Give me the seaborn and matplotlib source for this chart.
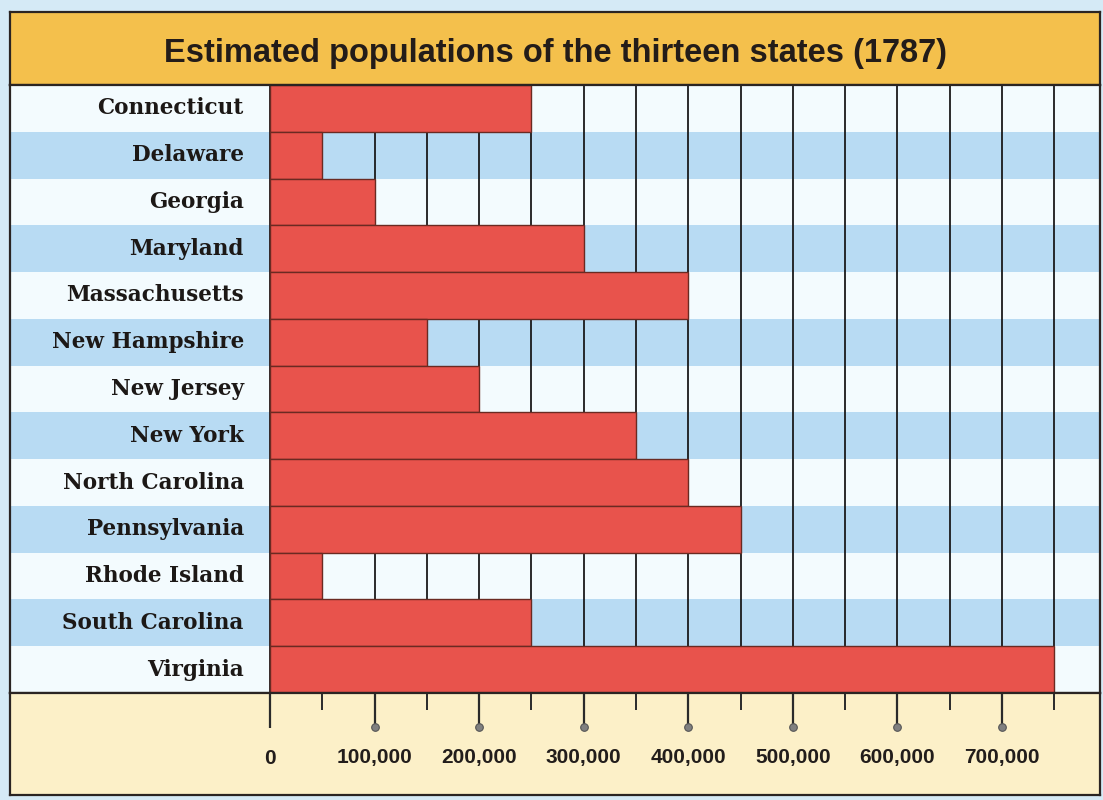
import numpy as np
import pandas as pd
import seaborn as sns
import matplotlib.pyplot as plt

# data
states = ['Connecticut', 'Delaware', 'Georgia', 'Maryland', 'Massachusetts',
          'New Hampshire', 'New Jersey', 'New York', 'North Carolina',
          'Pennsylvania', 'Rhode Island', 'South Carolina', 'Virginia']
population = [250000, 50000, 100000, 300000, 400000, 150000, 200000,
              350000, 400000, 450000, 50000, 250000, 750000]
major_ticks = [0, 100000, 200000, 300000, 400000, 500000, 600000, 700000]
tick_labels = ['0', '100,000', '200,000', '300,000', '400,000',
               '500,000', '600,000', '700,000']
title = 'Estimated populations of the thirteen states (1787)'

df = pd.DataFrame({'state': states, 'population': population})

RED = '#e8534c'
WHITE_ROW = '#f3fbfe'
BLUE_ROW = '#b8dbf3'
GOLD = '#f4c04c'
BEIGE = '#fcf0c8'
OUTER = '#d5eaf6'
DARK = '#2a2422'

sns.set_theme(style='white')
plt.rcParams['font.family'] = ['Liberation Sans', 'DejaVu Sans']

W, H = 1103, 800
fig = plt.figure(figsize=(W / 100, H / 100), dpi=100, facecolor=OUTER)

left, right = 10 / W, 1100 / W
y_top, y_title, y_rows, y_bot = 1 - 12 / H, 1 - 85 / H, 1 - 693 / H, 1 - 795 / H

# x range so that 0 sits at pixel 270 and the right edge at 1100
px_per_unit = (1002 - 270) / 700000
xmin = -(270 - 10) / px_per_unit
xmax = (1100 - 270) / px_per_unit

# title band
ax_t = fig.add_axes([left, y_title, right - left, y_top - y_title])
ax_t.set_facecolor(GOLD)
ax_t.set_xticks([])
ax_t.set_yticks([])
ax_t.text(0.5, 0.43, title, ha='center', va='center', fontsize=23.5,
          fontweight='bold', color='#231c19', transform=ax_t.transAxes)

# main bar area
ax = fig.add_axes([left, y_rows, right - left, y_title - y_rows])
sns.barplot(data=df, x='population', y='state', orient='h', color=RED,
            saturation=1, width=1.0, edgecolor='#6a2a22', linewidth=1.0, ax=ax)
for i in range(len(states)):
    ax.axhspan(i - 0.5, i + 0.5, color=WHITE_ROW if i % 2 == 0 else BLUE_ROW,
               zorder=0, lw=0)
    ax.text(-25000, i, states[i], ha='right', va='center', fontsize=15.5,
            fontweight='bold', family=['DejaVu Serif'], color='#1c1816')
ax.set_xlim(xmin, xmax)
ax.set_ylim(len(states) - 0.5, -0.5)
ax.set_xticks(np.arange(0, 800000, 50000))
ax.set_axisbelow(True)
ax.grid(axis='x', color='#1a1a1a', linewidth=1.3)
ax.grid(axis='y', visible=False)
ax.tick_params(axis='both', length=0, labelbottom=False, labelleft=False)
ax.set_xlabel('')
ax.set_ylabel('')

# bottom scale band
ax_b = fig.add_axes([left, y_bot, right - left, y_rows - y_bot])
ax_b.set_facecolor(BEIGE)
ax_b.set_xlim(xmin, xmax)
ax_b.set_ylim(0, 1)
ax_b.set_yticks([])
ax_b.xaxis.tick_top()
ax_b.set_xticks(major_ticks)
ax_b.set_xticks(np.arange(50000, 800000, 100000), minor=True)
ax_b.tick_params(axis='x', which='major', direction='in', length=25,
                 width=1.6, color='#2a2a2a', labeltop=False)
ax_b.tick_params(axis='x', which='minor', direction='in', length=12,
                 width=1.4, color='#2a2a2a')
ax_b.scatter(major_ticks[1:], [1 - 34 / 102] * (len(major_ticks) - 1),
             s=30, color='#808080', edgecolor='#555555', linewidth=0.8, zorder=3)
for v, lab in zip(major_ticks, tick_labels):
    ax_b.text(v, 1 - 65 / 102, lab, ha='center', va='center', fontsize=15,
              fontweight='bold', color='#221d1b')

for a in (ax_t, ax, ax_b):
    for s in a.spines.values():
        s.set_color(DARK)
        s.set_linewidth(1.6)
        s.set_visible(True)

fig.savefig('out.png', dpi=100, facecolor=OUTER)
